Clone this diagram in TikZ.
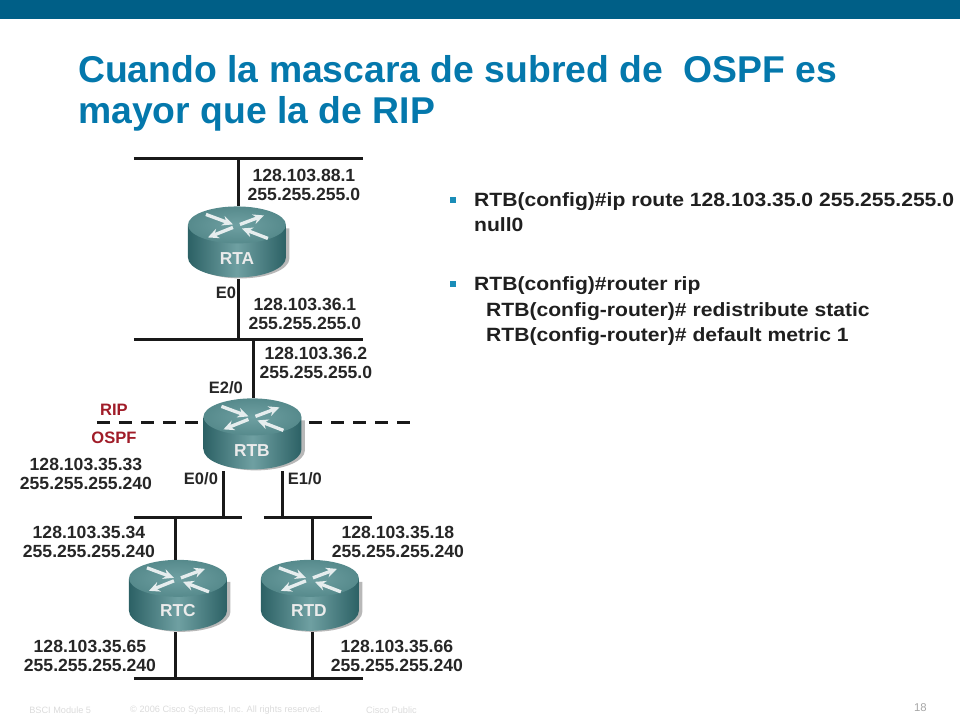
\documentclass[tikz,border=0pt]{standalone}
\usepackage{fontspec}
\setmainfont{Liberation Sans}
\newfontfamily\etire[FakeStretch=1.1]{Liberation Sans}
\usetikzlibrary{arrows.meta}
\definecolor{bandeau}{HTML}{005F87}
\definecolor{titre}{HTML}{0478AC}
\definecolor{puceb}{HTML}{1A8DB8}
\definecolor{rouge}{HTML}{A01C28}
\definecolor{routeurfonce}{HTML}{2C6165}
\definecolor{routeurclair}{HTML}{6FA0A2}
\definecolor{routeurhaut}{HTML}{568A8C}
\begin{document}
\begin{tikzpicture}[x=0.75pt,y=-0.75pt]
\tikzstyle{bus}=[line width=2.3pt,black!90]
\tikzstyle{limite}=[line width=2.3pt,black!90,dash pattern=on 9.75pt off 6.75pt]
\tikzstyle{fleche}=[-{Stealth[length=8pt,width=7.5pt]},line width=2.5pt,white!85!routeurhaut]
\tikzset{adresse/.style={font=\bfseries\fontsize{13.2}{14.6}\selectfont,align=center,text=black!85,inner sep=0pt},
port/.style={font=\bfseries\fontsize{12.4}{14}\selectfont,text=black!85,inner sep=0pt},
zone/.style={font=\bfseries\fontsize{12.4}{14}\selectfont,text=rouge,inner sep=0pt},
nomrouteur/.style={font=\bfseries\fontsize{13}{14}\selectfont,text=white!92!black,inner sep=0pt},
titre/.style={font=\bfseries\fontsize{28}{32}\selectfont,text=titre,anchor=base west,inner sep=0pt},
ligne/.style={font=\etire\bfseries\fontsize{14.4}{16}\selectfont,text=black!88,anchor=base west,inner sep=0pt},
puce/.style={fill=puceb,minimum size=4.5pt,inner sep=0pt},
pied/.style={font=\fontsize{6.9}{8}\selectfont,text=black!14,anchor=west,inner sep=0pt},
routeur/.style={minimum width=79.5pt,minimum height=54pt,inner sep=0pt,path picture={
  \begin{scope}[x=0.75pt,y=-0.75pt,shift={(path picture bounding box.center)}]
    \fill[black!28] (-45,-14) -- (52.5,-14) -- (52.5,16) arc[x radius=49,y radius=20,start angle=0,end angle=180] -- cycle;
    \shade[left color=routeurfonce,right color=routeurfonce,middle color=routeurclair]
      (-49,-17) -- (49,-17) -- (49,15) arc[x radius=49,y radius=20,start angle=0,end angle=180] -- cycle;
    \shade[inner color=routeurclair,outer color=routeurhaut] (0,-17.5) ellipse[x radius=49,y radius=18.5];
    \draw[fleche] (-31,-28) -- (-4,-18);
    \draw[fleche] (3,-18) -- (27,-27);
    \draw[fleche] (-4,-15) -- (-29,-5);
    \draw[fleche] (31,-4) -- (5,-14);
  \end{scope}
}}}

% bandeau et titre
\node[fill=bandeau,minimum width=720pt,minimum height=14.3pt,inner sep=0pt,anchor=north west] (haut) at (0,0) {};
\path[use as bounding box] (0,0) rectangle (960,720);
\node[titre] (titre1) at (78,83) {Cuando la mascara de subred de\ \ OSPF es};
\node[titre] (titre2) at (78,124) {mayor que la de RIP};

% les routeurs
\node[routeur] (RTA) at (237,242.5) {};
\node[routeur] (RTB) at (252.5,434.5) {};
\node[routeur] (RTC) at (178,596) {};
\node[routeur] (RTD) at (310,596) {};
\node[nomrouteur] (nomA) at (237,259) {RTA};
\node[nomrouteur] (nomB) at (252,451) {RTB};
\node[nomrouteur] (nomC) at (178,611) {RTC};
\node[nomrouteur] (nomD) at (309,611) {RTD};

% les reseaux
\coordinate (b1g) at (134,159); \coordinate (b1d) at (363,159);
\coordinate (b2g) at (134,340); \coordinate (b2d) at (363,340);
\coordinate (b3g) at (134,518); \coordinate (b3d) at (242,518);
\coordinate (b4g) at (264,518); \coordinate (b4d) at (372,518);
\coordinate (b5g) at (134,679); \coordinate (b5d) at (363,679);
\coordinate (rg) at (97,423); \coordinate (rd) at (410,423);
\coordinate (p1) at (239,159);
\coordinate (p2) at (239,340);
\coordinate (p3) at (254,340);
\coordinate (p4) at (224,518);
\coordinate (p5) at (283,518);
\coordinate (p6) at (176,518);
\coordinate (p7) at (313,518);
\coordinate (p8) at (176,679);
\coordinate (p9) at (313,679);
\draw[bus] (b1g) -- (b1d);
\draw[bus] (b2g) -- (b2d);
\draw[bus] (b3g) -- (b3d);
\draw[bus] (b4g) -- (b4d);
\draw[bus] (b5g) -- (b5d);
\draw[limite] (rg) -- (RTB.west |- rg);
\draw[limite] (rd) -- (RTB.east |- rd);
\draw[bus] (p1) -- (p1 |- RTA.north);
\draw[bus] (p2) -- (p2 |- RTA.south);
\draw[bus] (p3) -- (p3 |- RTB.north);
\draw[bus] (p4) -- (p4 |- RTB.south);
\draw[bus] (p5) -- (p5 |- RTB.south);
\draw[bus] (p6) -- (p6 |- RTC.north);
\draw[bus] (p7) -- (p7 |- RTD.north);
\draw[bus] (p8) -- (p8 |- RTC.south);
\draw[bus] (p9) -- (p9 |- RTD.south);

% les adresses
\node[adresse] (ad1) at (304,185) {128.103.88.1\\255.255.255.0};
\node[adresse] (ad2) at (305,314) {128.103.36.1\\255.255.255.0};
\node[adresse] (ad3) at (316,363) {128.103.36.2\\255.255.255.0};
\node[adresse] (ad4) at (86,474) {128.103.35.33\\255.255.255.240};
\node[adresse] (ad5) at (89,542) {128.103.35.34\\255.255.255.240};
\node[adresse] (ad6) at (398,542) {128.103.35.18\\255.255.255.240};
\node[adresse] (ad7) at (90,656) {128.103.35.65\\255.255.255.240};
\node[adresse] (ad8) at (397,656) {128.103.35.66\\255.255.255.240};
\node[port] (e0) at (226,293) {E0};
\node[port] (e20) at (226,388) {E2/0};
\node[port] (e00) at (201,479) {E0/0};
\node[port] (e10) at (305,479) {E1/0};
\node[zone] (rip) at (114,410) {RIP};
\node[zone] (ospf) at (114,438) {OSPF};

% le texte de droite
\node[puce] (puce1) at (453,200) {};
\node[puce] (puce2) at (453,284) {};
\node[ligne] (l1) at (474,207) {RTB(config)\#ip route 128.103.35.0 255.255.255.0};
\node[ligne] (l2) at (474,232) {null0};
\node[ligne] (l3) at (474,291) {RTB(config)\#router rip};
\node[ligne] (l4) at (486,317) {RTB(config-router)\# redistribute static};
\node[ligne] (l5) at (486,342) {RTB(config-router)\# default metric 1};

% pied de page
\node[pied] (f1) at (29,710) {BSCI Module 5};
\node[pied] (f2) at (130,710) {© 2006 Cisco Systems, Inc. All rights reserved.};
\node[pied] (f3) at (366,710) {Cisco Public};
\node[pied,text=black!35,font=\fontsize{8.5}{10}\selectfont] (num) at (914,708) {18};
\end{tikzpicture}
\end{document}
